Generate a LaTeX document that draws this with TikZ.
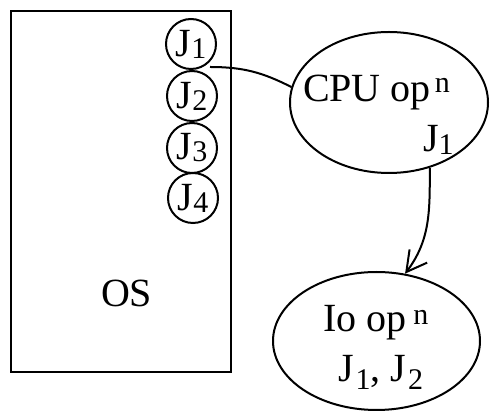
\documentclass[tikz,border=0pt]{standalone}
\usepackage{fontspec}
\setmainfont{Liberation Serif}
\usetikzlibrary{shapes.geometric,arrows.meta}

% text sizes used in the sketch
\newcommand\mainsize{\fontsize{40}{48}\selectfont}
\newcommand\idx[2]{\raisebox{-#2}{\fontsize{30}{30}\selectfont #1}}
\newcommand\pow[2]{\raisebox{#2}{\fontsize{30}{30}\selectfont #1}}

\begin{document}
\begin{tikzpicture}[x=1pt,y=1pt,
  line width=2pt,
  jobcircle/.style={draw, circle, minimum size=50pt, inner sep=0pt, font=\mainsize},
  opellipse/.style={draw, ellipse, inner sep=0pt},
  label text/.style={anchor=base west, inner sep=0pt, font=\mainsize},
  link/.style={line width=2pt}
]
\fill[white] (0,0) rectangle (490,412);
\useasboundingbox (0,0) rectangle (490,412);

% memory block holding the jobs
\node[draw, minimum width=220pt, minimum height=361pt, inner sep=0pt]
  (mem) at (121,220.5) {};
\node[label text] (os) at (100,105) {OS};

% job queue
\node[jobcircle] (j1) at (191,368) {J\idx{1}{2pt}};
\node[jobcircle] (j2) at (192,316) {J\idx{2}{2pt}};
\node[jobcircle] (j3) at (192,264) {J\idx{3}{2pt}};
\node[jobcircle] (j4) at (193,214) {J\idx{4}{2pt}};

% operation ellipses
\node[opellipse, minimum width=198pt, minimum height=141pt] (cpu) at (389,309.5) {};
\node[label text] (cputext) at (302,310) {CPU op\kern4pt\pow{n}{9pt}};
\node[label text] (cpujob) at (422,260) {J\idx{1}{3pt}};

\node[opellipse, minimum width=207pt, minimum height=138pt] (io) at (376.5,71) {};
\node[label text] (iotext) at (322,80) {Io op\kern7pt\pow{n}{7pt}};
\node[label text] (iojobs) at (337,30) {J\kern2pt\idx{1}{8pt}, J\kern2pt\idx{2}{8pt}};

% connectors
\coordinate (start) at (210,345);
\draw[link] (start) to[out=0, in=153] (cpu.171);
\draw[link, -{Straight Barb[length=20pt, width=22pt]}] (cpu.302) to[out=-90, in=53] (io.67);
\end{tikzpicture}
\end{document}
